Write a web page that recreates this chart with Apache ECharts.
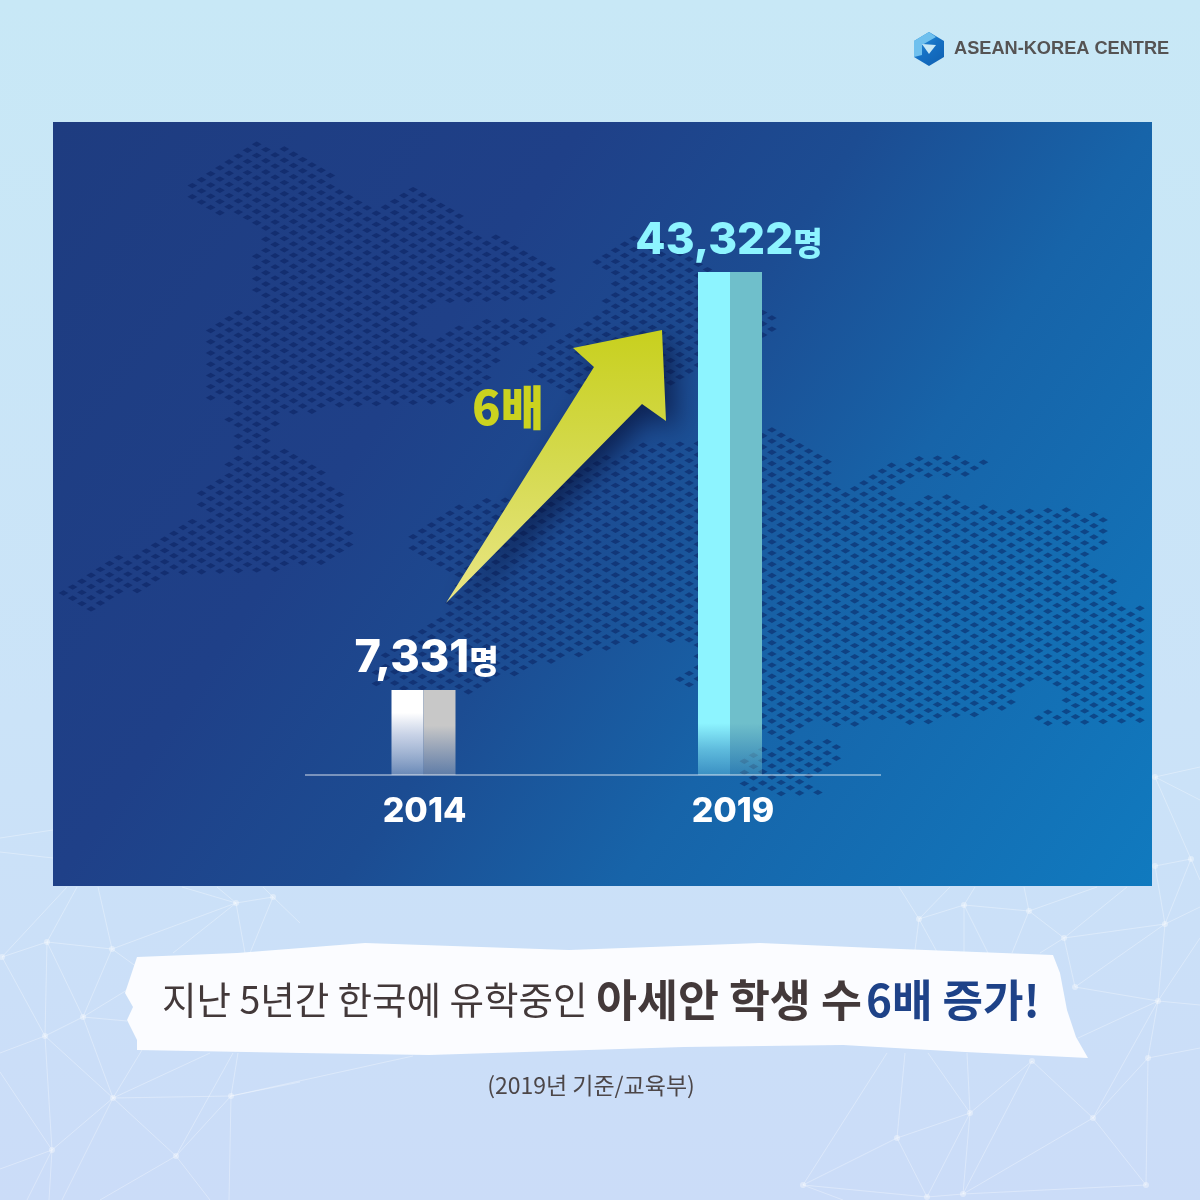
<!DOCTYPE html>
<html>
<head>
<meta charset="utf-8">
<style>html,body{margin:0;padding:0;background:#cbe2f7}#c{width:1200px;height:1200px}</style>
<script src="https://cdn.jsdelivr.net/npm/echarts@6/dist/echarts.min.js"></script>
</head>
<body>
<div id="c"></div>
<script>
// ---- chart data ----
const categories = ['2014', '2019'];
const students = [7331, 43322];
const unit = '명';

// ---- decoration outlines (not data) ----
const mapAreas = [
  [[188,186],[257,142],[293,153],[335,175],[335,185],[377,212],[403,193],[423,190],[450,207],[473,232],[507,240],[537,257],[557,278],[543,300],[505,302],[470,300],[433,302],[407,317],[417,333],[427,350],[443,338],[460,327],[487,318],[547,317],[550,323],[547,335],[505,350],[480,385],[450,402],[417,402],[343,405],[317,412],[280,412],[273,428],[263,443],[273,452],[300,455],[318,465],[330,482],[342,498],[342,522],[352,538],[352,550],[338,557],[310,563],[265,570],[227,572],[173,573],[137,590],[110,598],[90,610],[60,593],[90,576],[143,545],[172,527],[200,520],[208,515],[195,498],[207,482],[235,462],[253,453],[240,447],[240,435],[230,418],[252,407],[210,397],[210,330],[243,312],[263,300],[253,290],[253,267],[267,240],[267,227],[220,213],[197,202]],
  [[595,260],[630,235],[680,245],[720,272],[765,310],[772,322],[772,335],[700,372],[670,385],[590,395],[557,387],[533,372],[543,350],[587,320],[607,300],[613,280]],
  [[413,533],[450,508],[478,502],[540,493],[583,467],[633,447],[673,443],[697,443],[763,430],[783,428],[815,447],[825,463],[825,477],[847,488],[863,478],[910,458],[950,455],[982,462],[978,475],[958,477],[930,473],[907,477],[890,492],[903,505],[940,495],[978,507],[1003,510],[1042,508],[1088,512],[1103,520],[1103,543],[1083,553],[1083,563],[1112,580],[1113,597],[1117,607],[1137,605],[1152,613],[1152,718],[1138,722],[1083,723],[1047,725],[1033,717],[1067,710],[1070,693],[1053,683],[1033,677],[1013,698],[1000,710],[953,717],[908,723],[893,715],[853,727],[830,727],[820,720],[793,730],[780,740],[763,727],[698,680],[687,690],[673,682],[695,665],[693,645],[655,637],[618,645],[530,665],[465,695],[440,692],[380,685],[370,672],[400,640],[445,610],[465,580],[440,568],[413,553]],
  [[745,753],[785,745],[827,740],[840,748],[840,758],[818,773],[793,778],[832,798],[787,798],[745,785]]
];
const arrowShape = [[446,603],[594,367],[573,348],[662,330],[666,421],[642,404]];
const ribbonShape = [[137,957],[237,953],[365,943],[569,950],[760,943],[875,948],[1053,955],[1060,973],[1067,1010],[1076,1037],[1088,1058],[965,1052],[843,1045],[684,1047],[429,1055],[301,1053],[137,1050],[137,1040],[127,1020],[133,1007],[125,993]];
const nets = {
  a:[1155,777],b:[1191,859],c:[1155,866],d:[1165,924],e:[1158,1001],f:[1148,1058],g:[1093,1118],h:[1075,987],i:[1064,938],j:[1029,911],k:[964,905],l:[919,919],m:[1032,1061],n:[970,1113],o:[897,1138],p:[803,1185],q:[927,1197],r:[963,1194],s:[1146,1185],
  A:[236,903],B:[273,897],C:[47,942],D:[112,949],E:[2,957],F:[83,1017],G:[45,1036],H:[113,1098],I:[52,1150],J:[176,1156],K:[231,1096]
};
const netEdges = [
  ['a','b'],['c','b'],['c','d'],['b','d'],['d','i'],['d','h'],['e','d'],['e','h'],['e','f'],['i','j'],['i','h'],['j','k'],['k','l'],['f','g'],['f','s'],['g','e'],['g','m'],['g','s'],['g','r'],['m','n'],['m','r'],['n','o'],['n','r'],['o','p'],['o','q'],['p','q'],['q','r'],['q','n'],['r','s'],
  ['A','B'],['A','D'],['C','D'],['C','E'],['C','G'],['C','F'],['D','F'],['E','G'],['F','G'],['F','H'],['G','H'],['G','I'],['H','I'],['H','J'],['H','K'],['J','K']
];
const netRays = [
  ['d',1200,907],['b',1200,880],['a',1200,767],['e',1200,1005],['e',1200,938],['e',1078,1038],['i',1127,887],['j',1097,887],['j',1024,887],['k',975,887],['l',950,887],['l',899,887],['k',988,953],['k',964,953],['j',1012,953],['i',1040,953],['l',937,952],['l',915,950],['f',1200,1048],['n',928,1053],['n',967,1053],['o',905,1053],['p',887,1053],['p',843,1200],
  ['A',182,887],['A',217,887],['B',263,887],['B',300,923],['B',250,953],['A',245,953],['A',173,953],['C',77,887],['E',67,887],['D',98,887],['D',137,967],['F',127,990],['F',127,1021],['G',0,1053],['H',142,1050],['H',210,1053],['J',233,1053],['K',238,1053],['K',300,1082],['K',229,1200],['J',210,1200],['J',100,1200],['H',62,1200],['I',0,1169],['I',27,1200],['I',49,1200],['I',0,1072],['K',413,1056],
  ['a',1200,800]
];
const strayLines = [[0,838,53,830],[0,852,53,858]];

const KR = '"Noto Sans CJK KR","Noto Sans",sans-serif';

function inside(pt, poly) {
  let c = false;
  for (let i = 0, j = poly.length - 1; i < poly.length; j = i++) {
    const a = poly[i], b = poly[j];
    if ((a[1] > pt[1]) !== (b[1] > pt[1]) &&
        pt[0] < (b[0] - a[0]) * (pt[1] - a[1]) / (b[1] - a[1]) + a[0]) c = !c;
  }
  return c;
}
function hit(x, y) {
  return mapAreas.some(p => inside([x, y], p) || inside([x-3, y], p) || inside([x+3, y], p) || inside([x, y-2], p) || inside([x, y+2], p));
}
function mapDots() {
  const out = [], ox = 256.7, oy = 144.3;
  for (let i = -120; i < 220; i++) for (let j = -120; j < 220; j++) {
    const x = ox + 9.2 * (i + j), y = oy + 5.3 * i - 5.9 * j;
    if (x < 58 || x > 1148 || y < 126 || y > 796) continue;
    if (!hit(x, y)) continue;
    out.push({type:'polygon', silent:true, z:-7,
      shape:{points:[[x-4.8,y],[x,y-2.7],[x+4.8,y],[x,y+2.7]]},
      style:{fill:'rgba(8,30,92,0.5)'}});
  }
  return out;
}
function netElements() {
  const out = [], st = {stroke:'rgba(255,255,255,0.32)', lineWidth:1};
  netEdges.forEach(e => { const a = nets[e[0]], b = nets[e[1]];
    out.push({type:'line', silent:true, z:-9, shape:{x1:a[0],y1:a[1],x2:b[0],y2:b[1]}, style:st}); });
  netRays.forEach(e => { const a = nets[e[0]];
    out.push({type:'line', silent:true, z:-9, shape:{x1:a[0],y1:a[1],x2:e[1],y2:e[2]}, style:st}); });
  strayLines.forEach(l => out.push({type:'line', silent:true, z:-9, shape:{x1:l[0],y1:l[1],x2:l[2],y2:l[3]}, style:st}));
  Object.keys(nets).forEach(k => { const a = nets[k];
    out.push({type:'circle', silent:true, z:-9, shape:{cx:a[0],cy:a[1],r:3}, style:{fill:'rgba(255,255,255,0.36)'}}); });
  return out;
}
function grad(stops) {
  return {type:'linear', x:0, y:0, x2:0, y2:1, colorStops:stops.map(s => ({offset:s[0], color:s[1]}))};
}
const shades = {
  light: [
    grad([[0,'#ffffff'],[0.27,'#ffffff'],[0.55,'rgba(225,230,243,0.85)'],[1,'rgba(255,255,255,0.34)']]),
    grad([[0,'#8df4ff'],[0.897,'#8df4ff'],[0.95,'rgba(141,244,255,0.6)'],[1,'rgba(141,244,255,0.3)']])
  ],
  dark: [
    grad([[0,'#c8c8c8'],[0.42,'#c8c8c8'],[1,'rgba(190,190,195,0.42)']]),
    grad([[0,'#6fbfcb'],[0.897,'#6fbfcb'],[1,'rgba(111,191,203,0.28)']])
  ]
};
const labelStyle = [
  {color:'#ffffff', size:45, offset:[19,-4]},
  {color:'#8df4ff', size:44, offset:[15,-4]}
];
function fmt(v){ return '{n|' + v.toLocaleString('en-US') + '}{u|' + unit + '}'; }

const chart = echarts.init(document.getElementById('c'), null, {renderer:'canvas', width:1200, height:1200});
chart.setOption({
  animation:false,
  grid:{left:270.25, width:613, top:194.5, height:580.5, containLabel:false},
  xAxis:{type:'category',
    data:categories.map((c,i) => ({value:c, textStyle:{padding:[0,0,0,i === 1 ? 6 : 2]}})),
    axisLine:{show:false}, axisTick:{show:false},
    axisLabel:{margin:20, color:'#ffffff', fontFamily:'Inter,Roboto,sans-serif', fontWeight:800, fontSize:34}},
  yAxis:{type:'value', min:0, max:50000, show:false, splitLine:{show:false}},
  series:[
    {name:'light', type:'bar', barWidth:32, barGap:'0%',
      data:students.map((v,i) => ({value:v, itemStyle:{color:shades.light[i]},
        label:{show:true, position:'top', offset:labelStyle[i].offset, formatter:fmt(v),
          rich:{
            n:{fontFamily:'Inter,Roboto,sans-serif', fontWeight:800, fontSize:labelStyle[i].size, color:labelStyle[i].color},
            u:{fontFamily:KR, fontWeight:900, fontSize:32, color:labelStyle[i].color, padding:[4,0,0,0]}
          }}}))},
    {name:'dark', type:'bar', barWidth:32, barGap:'0%',
      data:students.map((v,i) => ({value:v, itemStyle:{color:shades.dark[i]}}))}
  ],
  graphic:{elements:[
    {type:'rect', silent:true, z:-10, shape:{x:0,y:0,width:1200,height:1200},
      style:{fill:{type:'linear',x:0,y:0,x2:0,y2:1,colorStops:[{offset:0,color:'#c8e8f6'},{offset:0.6,color:'#cbe3f8'},{offset:1,color:'#cbdcf8'}]}}},
    {type:'group', silent:true, children:netElements()},
    {type:'rect', silent:true, z:-8, shape:{x:53,y:122,width:1099,height:764},
      style:{fill:{type:'linear',x:0,y:0,x2:1,y2:1,colorStops:[
        {offset:0,color:'#1e3c80'},{offset:0.326,color:'#1f4088'},{offset:0.5,color:'#1c4c92'},{offset:0.674,color:'#1764a9'},{offset:1,color:'#107abf'}]}}},
    {type:'group', silent:true, children:mapDots()},
    {type:'polygon', silent:true, z:-6, shape:{points:arrowShape},
      style:{fill:{type:'linear',x:0,y:0,x2:0,y2:1,colorStops:[{offset:0,color:'#c8d01e'},{offset:0.5,color:'#d5da50'},{offset:1,color:'#eae686'}]},
        shadowBlur:26, shadowOffsetX:10, shadowOffsetY:10, shadowColor:'rgba(4,12,50,0.65)'}},
    {type:'text', silent:true, z:-5, x:508, y:407,
      style:{text:'6배', font:'900 47px ' + KR, fill:'#cbd21f', textAlign:'center', textVerticalAlign:'middle'}},
    {type:'line', silent:true, z:50, shape:{x1:305,y1:775,x2:881,y2:775},
      style:{stroke:'rgba(255,255,255,0.55)', lineWidth:1.5}},
    // ribbon
    {type:'polygon', silent:true, z:-4, shape:{points:ribbonShape}, style:{fill:'rgba(252,253,255,0.97)'}},
    {type:'text', silent:true, z:-3, x:162, y:1000,
      style:{text:'지난 5년간 한국에 유학중인', font:'400 37.5px ' + KR, fill:'#43393a', textAlign:'left', textVerticalAlign:'middle'}},
    {type:'text', silent:true, z:-3, x:596, y:1000,
      style:{text:'아세안 학생 수', font:'700 44.5px ' + KR, fill:'#43393a', textAlign:'left', textVerticalAlign:'middle'}},
    {type:'text', silent:true, z:-3, x:866, y:1000,
      style:{text:'6배 증가!', font:'700 44px ' + KR, fill:'#1e4288', textAlign:'left', textVerticalAlign:'middle'}},
    {type:'text', silent:true, z:-3, x:591, y:1085,
      style:{text:'(2019년 기준/교육부)', font:'400 23px ' + KR, fill:'#4c4648', textAlign:'center', textVerticalAlign:'middle'}},
    // logo
    {type:'polygon', silent:true, z:-3, shape:{points:[[929,32],[944,41],[944,57],[929,66],[914,57],[914,41]]},
      style:{fill:{type:'linear',x:0,y:0,x2:1,y2:1,colorStops:[{offset:0,color:'#2f9be0'},{offset:0.5,color:'#1570c4'},{offset:1,color:'#0f5fb0'}]}}},
    {type:'polygon', silent:true, z:-3, shape:{points:[[914,41],[929,32],[936,37],[922,45],[922,55],[914,57]]},
      style:{fill:'#6fc0ee'}},
    {type:'polygon', silent:true, z:-3, shape:{points:[[922,44],[936,45],[929,54]]}, style:{fill:'#c8e8f6'}},
    {type:'text', silent:true, z:-3, x:954, y:48.5,
      style:{text:'ASEAN-KOREA CENTRE', font:'700 18.2px "Liberation Sans",Arial,sans-serif', fill:'#555353', textAlign:'left', textVerticalAlign:'middle'}}
  ]}
});
</script>
</body>
</html>
